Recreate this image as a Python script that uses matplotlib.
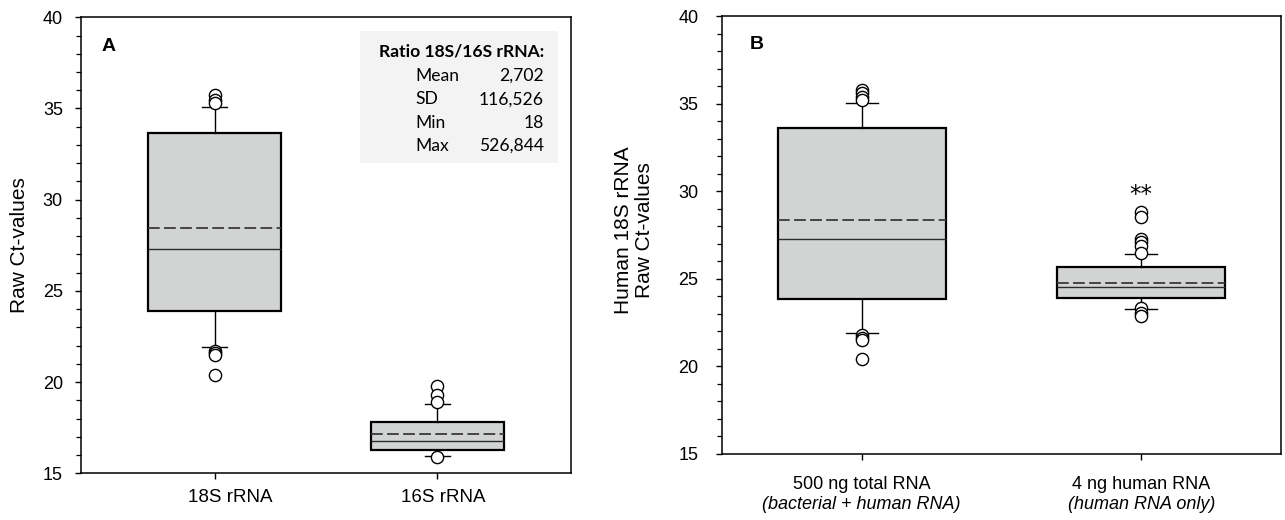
import matplotlib
matplotlib.use("Agg")
import matplotlib.pyplot as plt
from matplotlib.patches import Rectangle
from matplotlib.ticker import MultipleLocator

plt.rcParams['font.family'] = ['Liberation Sans', 'DejaVu Sans']

# ---------------- Panel A data ----------------
categories_a = ["18S rRNA", "16S rRNA"]
q1_a = [23.90, 16.28]
med_a = [27.30, 16.78]
q3_a = [33.66, 17.81]
mean_a = [28.45, 17.17]
whislo_a = [21.90, 15.95]
whishi_a = [35.08, 18.80]
fliers_a = [[35.74, 35.47, 35.30, 21.70, 21.60, 21.50, 20.40],
            [19.80, 19.30, 18.90, 15.90]]

ratio_title = "Ratio 18S/16S rRNA:"
ratio_labels = ["Mean", "SD", "Min", "Max"]
ratio_values = ["2,702", "116,526", "18", "526,844"]

# ---------------- Panel B data ----------------
categories_b = ["500 ng total RNA", "4 ng human RNA"]
subtitles_b = ["(bacterial + human RNA)", "(human RNA only)"]
q1_b = [23.85, 23.90]
med_b = [27.27, 24.53]
q3_b = [33.60, 25.67]
mean_b = [28.38, 24.78]
whislo_b = [21.90, 23.30]
whishi_b = [35.05, 26.42]
fliers_b = [[35.80, 35.60, 35.40, 35.20, 21.80, 21.60, 21.50, 20.40],
            [28.80, 28.50, 27.30, 27.10, 26.90, 26.50, 23.35, 23.05, 22.85]]
signif_b = ["", "**"]
signif_y_b = 29.45

W, H = 1285, 520
fig = plt.figure(figsize=(W / 100, H / 100), dpi=100)

def px_axes(l, r, t, b):
    return [l / W, 1 - b / H, (r - l) / W, (b - t) / H]

axA = fig.add_axes(px_axes(81, 571, 17.3, 473.3))
axB = fig.add_axes(px_axes(722, 1281, 16, 454))

box_face = '#d2d4d4'


def make_stats(q1, med, q3, mean, lo, hi, fl):
    return [dict(q1=q1[i], med=med[i], q3=q3[i], mean=mean[i],
                 whislo=lo[i], whishi=hi[i], fliers=fl[i]) for i in range(len(q1))]


def draw(ax, stats):
    ax.bxp(stats, positions=[1, 2], widths=0.6, capwidths=0.115,
           patch_artist=True, showmeans=True, meanline=True,
           boxprops=dict(facecolor=box_face, edgecolor='black', linewidth=1.6),
           medianprops=dict(color='#2a2a2a', linewidth=1.0),
           meanprops=dict(color='#3a3a3a', linewidth=1.3, linestyle=(0, (6.5, 2.4))),
           whiskerprops=dict(color='black', linewidth=1.0),
           capprops=dict(color='black', linewidth=1.0),
           flierprops=dict(marker='o', markerfacecolor='white', markeredgecolor='black',
                           markersize=8.8, markeredgewidth=1.0, linestyle='none'))
    ax.set_ylim(15, 40)
    ax.yaxis.set_major_locator(MultipleLocator(5))
    ax.yaxis.set_minor_locator(MultipleLocator(1))
    for s in ax.spines.values():
        s.set_linewidth(1.1)
    ax.tick_params(axis='y', which='major', direction='out', length=4.5, width=1.0,
                   labelsize=13, right=False)
    ax.tick_params(axis='y', which='minor', direction='out', length=3.5, width=0.9, right=False)
    ax.tick_params(axis='x', which='major', direction='out', length=4.0, width=1.0,
                   labelsize=13.5, top=False)
    ax.tick_params(axis='x', which='minor', bottom=False, top=False)


# ---- Panel A ----
draw(axA, make_stats(q1_a, med_a, q3_a, mean_a, whislo_a, whishi_a, fliers_a))
axA.set_xlim(0.4, 2.6)
axA.set_xticks([1, 2])
axA.set_xticklabels(["", ""])
axA.tick_params(axis='y', which='major', pad=8.5)
label_shift_a = [11.5, 4.5]  # points, labels sit slightly right of the ticks
for i, (cat, dx) in enumerate(zip(categories_a, label_shift_a)):
    axA.annotate(cat, xy=(i + 1, 0), xycoords=axA.get_xaxis_transform(),
                 xytext=(dx, -17.3), textcoords='offset points', ha='center',
                 va='center', fontsize=13.5)
axA.text(0.041, 0.935, "A", transform=axA.transAxes, fontsize=14, fontweight='bold',
         ha='left', va='center')

axA.add_patch(Rectangle((0.569, 0.680), 0.404, 0.290, transform=axA.transAxes,
                        facecolor='#f2f3f2', edgecolor='none', zorder=1))
inset_font = ['Lato', 'DejaVu Sans']
axA.text(0.945, 0.924, ratio_title, transform=axA.transAxes, fontsize=12.6,
         fontweight='bold', ha='right', va='center', family=inset_font, zorder=3)
row_y = [0.872, 0.820, 0.768, 0.718]
for lab, val, yy in zip(ratio_labels, ratio_values, row_y):
    axA.text(0.682, yy, lab, transform=axA.transAxes, fontsize=12.6, ha='left',
             va='center', family=inset_font, zorder=3)
    axA.text(0.945, yy, val, transform=axA.transAxes, fontsize=12.6, ha='right',
             va='center', family=inset_font, zorder=3)

fig.text(20 / W, 1 - 245 / H, "Raw Ct-values", rotation=90, ha='center', va='center',
         fontsize=15)

# ---- Panel B ----
draw(axB, make_stats(q1_b, med_b, q3_b, mean_b, whislo_b, whishi_b, fliers_b))
axB.set_xlim(0.5, 2.5)
axB.set_xticks([1, 2])
axB.set_xticklabels(categories_b)
axB.tick_params(axis='x', pad=11.5, labelsize=13)
axB.tick_params(axis='y', which='major', pad=12.5)
for i, sub in enumerate(subtitles_b):
    axB.annotate(sub, xy=(i + 1, 0), xycoords=axB.get_xaxis_transform(),
                 xytext=(0, -36.5), textcoords='offset points', ha='center',
                 va='center', fontsize=13, style='italic')
for i, sg in enumerate(signif_b):
    if sg:
        axB.text(i + 1, signif_y_b, sg, ha='center', va='baseline', fontsize=16.5,
                 family=['DejaVu Sans'])
axB.text(0.05, 0.934, "B", transform=axB.transAxes, fontsize=14, fontweight='bold',
         ha='left', va='center')

fig.text(634 / W, 1 - 230 / H, "Human 18S rRNA\nRaw Ct-values", rotation=90,
         ha='center', va='center', fontsize=15, linespacing=1.1, multialignment='center')

fig.savefig("out.png", dpi=100)
